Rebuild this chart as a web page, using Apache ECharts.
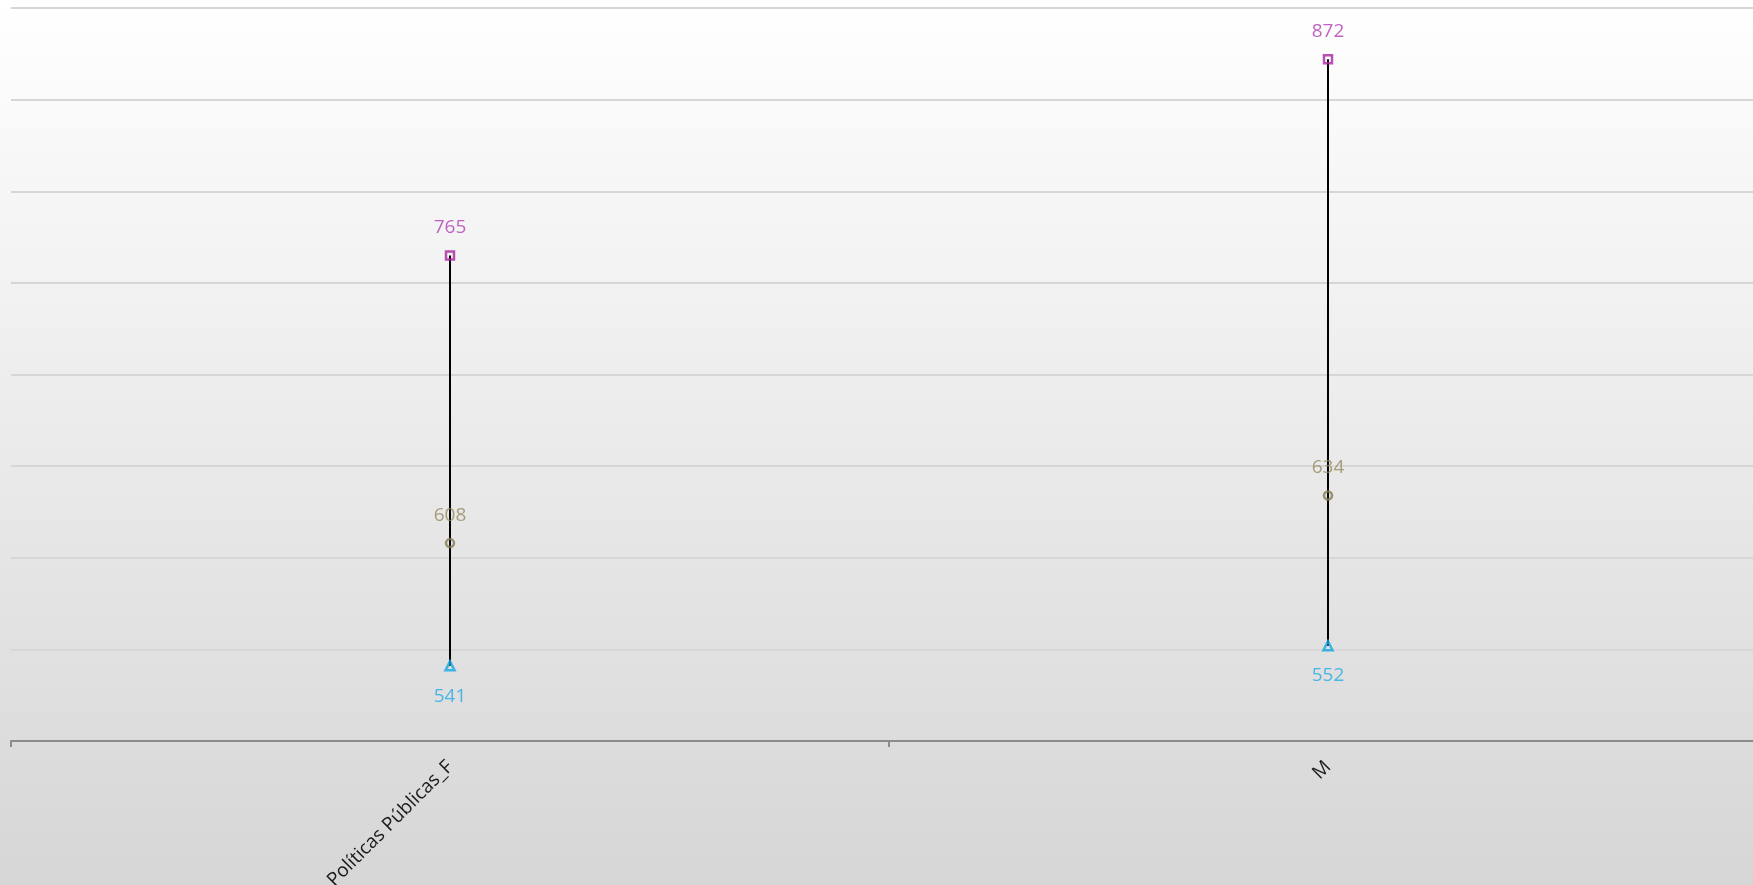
<!DOCTYPE html>
<html>
<head>
<meta charset="utf-8">
<script src="https://cdn.jsdelivr.net/npm/echarts@6/dist/echarts.min.js"></script>
<style>
html,body{margin:0;padding:0;width:1753px;height:885px;overflow:hidden;}
#c{width:1753px;height:885px;}
</style>
</head>
<body>
<div id="c"></div>
<script>
const categories = ['Políticas Públicas_F', 'M'];
const highValues = [765, 872];
const midValues = [608, 634];
const lowValues = [541, 552];
const yMin = 500, yMax = 900, yInterval = 50;

const chart = echarts.init(document.getElementById('c'));
const FONT = '"Open Sans", sans-serif';

const rangeData = categories.map((c, i) => [i, lowValues[i], highValues[i]]);

chart.setOption({
  backgroundColor: {
    type: 'linear', x: 0, y: 0, x2: 0, y2: 1,
    colorStops: [{offset: 0, color: '#ffffff'}, {offset: 1, color: '#d6d6d6'}]
  },
  animation: false,
  grid: {left: 11, width: 1756, top: 8, bottom: 144, containLabel: false, outerBoundsMode: 'none'},
  xAxis: {
    type: 'category',
    data: categories,
    boundaryGap: true,
    axisLine: {lineStyle: {color: '#8c8c8c', width: 2}},
    axisTick: {show: true, length: 6, lineStyle: {color: '#8c8c8c', width: 2}},
    axisLabel: {rotate: 45, margin: 23, color: '#1a1a1a', fontSize: 19, fontFamily: FONT}
  },
  yAxis: {
    type: 'value',
    min: yMin, max: yMax, interval: yInterval,
    axisLabel: {show: false},
    axisLine: {show: false},
    axisTick: {show: false},
    splitLine: {lineStyle: {color: '#d6d6d6', width: 2}}
  },
  series: [
    {
      type: 'custom',
      z: 2,
      data: rangeData,
      renderItem: function (params, api) {
        const p1 = api.coord([api.value(0), api.value(1)]);
        const p2 = api.coord([api.value(0), api.value(2)]);
        return {
          type: 'line',
          shape: {x1: p1[0], y1: p1[1], x2: p2[0], y2: p2[1]},
          style: {stroke: '#000', lineWidth: 2}
        };
      }
    },
    {
      type: 'scatter', z: 3,
      data: highValues,
      symbol: 'rect', symbolSize: 8,
      itemStyle: {color: 'rgba(0,0,0,0)', borderColor: '#a8269f', borderWidth: 2.5},
      label: {show: true, position: 'top', distance: 13, color: '#b03cb5', fontSize: 19, fontFamily: FONT}
    },
    {
      type: 'scatter', z: 3,
      data: midValues,
      symbol: 'circle', symbolSize: 8,
      itemStyle: {color: 'rgba(0,0,0,0)', borderColor: '#857b50', borderWidth: 2.5},
      label: {show: true, position: 'top', distance: 13, color: '#958b5e', fontSize: 19, fontFamily: FONT}
    },
    {
      type: 'scatter', z: 3,
      data: lowValues,
      symbol: 'triangle', symbolSize: 9,
      itemStyle: {color: 'rgba(0,0,0,0)', borderColor: '#12a8e6', borderWidth: 2.5},
      label: {show: true, position: 'bottom', distance: 15, color: '#22abe6', fontSize: 19, fontFamily: FONT}
    }
  ]
});
</script>
</body>
</html>
